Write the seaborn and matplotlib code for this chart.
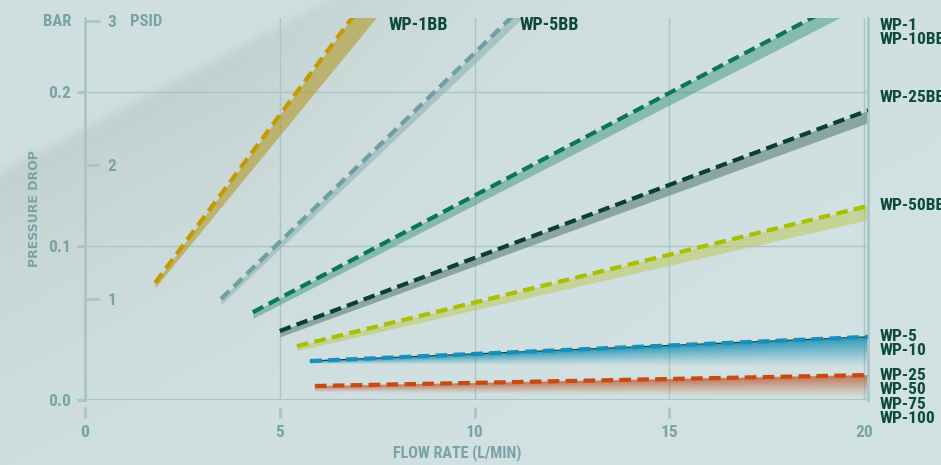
import numpy as np
import pandas as pd
import matplotlib
matplotlib.use('Agg')
import matplotlib.pyplot as plt
from matplotlib import font_manager as fm
import seaborn as sns

# pressure drop curves (bar) vs flow rate (L/min)
series = ['WP-1BB', 'WP-5BB', 'WP-1/WP-10BB', 'WP-25BB', 'WP-50BB', 'WP-5/WP-10', 'WP-25/50/75/100']
flow_start = [1.80, 3.49, 4.31, 5.00, 5.44, 5.78, 5.90]
flow_end = [7.50, 11.25, 19.40, 20.1, 20.1, 20.1, 20.1]
dp_start = [0.076, 0.0656, 0.057, 0.0448, 0.035, 0.0253, 0.0091]
dp_end = [0.2701, 0.2559, 0.2579, 0.188, 0.126, 0.041, 0.0162]
band_low_start = [0.073, 0.062, 0.053, 0.041, 0.032, 0.0235, 0.005]
band_low_end = [0.249, 0.2485, 0.2485, 0.180, 0.117, 0.021, 0.0015]

psid_ticks = [0.0656, 0.1526, 0.246]
psid_labels = ['1', '2', '3']
bar_ticks = [0.0, 0.1, 0.2]
flow_ticks = [0, 5, 10, 15, 20]

right_labels = ['WP-1', 'WP-10BB', 'WP-25BB', 'WP-50BB', 'WP-5', 'WP-10', 'WP-25', 'WP-50', 'WP-75', 'WP-100']
right_label_y = [0.2429, 0.2338, 0.1964, 0.126, 0.041, 0.0319, 0.0157, 0.0065, -0.0026, -0.0117]

line_colors = ['#c49a00', '#6e9fa3', '#0b7658', '#0a3f33', '#a9bf00', '#1690bb', '#c94a0e']
band_colors = ['#b39a2a', '#8fb3b6', '#4d9e8a', '#6e8f88', '#bccb5a', '#1a93b8', '#c0603a']
band_alpha = [0.6, 0.6, 0.55, 0.7, 0.55, 0.9, 0.85]
band_fade = [False, False, False, False, False, True, True]

AXC = '#78a3a7'
GRID = '#a9c5c7'
LAB = '#0e4a3c'

sns.set_style('white')
plt.rcParams['font.family'] = ['DejaVu Sans']
plt.rcParams['font.weight'] = 'bold'

# look for a narrow / condensed bold face for the labels
COND = {'family': ['DejaVu Sans'], 'stretch': 'normal'}
avail = fm.fontManager.ttflist
for want in ['Liberation Sans Narrow', 'Roboto Condensed', 'Open Sans Condensed', 'Noto Sans Condensed']:
    if any(f.name == want for f in avail):
        COND = {'family': [want, 'DejaVu Sans'], 'stretch': 'normal'}
        break
else:
    for f in avail:
        if str(f.stretch) in ('condensed', 'semi-condensed', 'extra-condensed', '75', '87.5'):
            COND = {'family': [f.name, 'DejaVu Sans'], 'stretch': 'condensed'}
            break


def ctext(x, y, s, **kw):
    return ax.text(x, y, s, family=COND['family'], fontstretch=COND['stretch'],
                   fontweight='bold', **kw)


fig = plt.figure(figsize=(9.41, 4.65), dpi=100)

# background with a darker cloudy streak in the upper left
h, w = 465, 941
yy, xx = np.mgrid[0:h, 0:w].astype(float)
s = (166 * xx + 317 * yy - 317 * 173) / np.hypot(166, 317)
dark = 1 / (1 + np.exp(-s / 3)) * np.exp(-np.clip(s, 0, None) / 150) * np.exp(-np.clip(xx - 250, 0, None) / 250)
light = 0.012 * (xx / w + yy / h) / 2
base = np.array([0.812, 0.871, 0.871])
img = base[None, None, :] - dark[..., None] * np.array([0.05, 0.058, 0.058]) + light[..., None]
bg = fig.add_axes([0, 0, 1, 1], zorder=-10)
bg.imshow(np.clip(img, 0, 1), aspect='auto', extent=[0, 1, 0, 1])
bg.axis('off')

ax = fig.add_axes([85 / 941, 65 / 465, 783 / 941, 382 / 465])
ax.set_facecolor('none')

df = pd.DataFrame({
    'series': np.repeat(series, 2),
    'flow': np.ravel(np.column_stack([flow_start, flow_end])),
    'dp': np.ravel(np.column_stack([dp_start, dp_end])),
})

# shaded wedges under the curves
for i, name in enumerate(series):
    xs = np.array([flow_start[i], flow_end[i]])
    up = np.array([dp_start[i], dp_end[i]])
    lo = np.array([band_low_start[i], band_low_end[i]])
    if band_fade[i]:
        gx = np.linspace(xs[0], xs[1], 300)
        gy = np.linspace(lo.min(), up.max(), 120)
        GX, GY = np.meshgrid(gx, gy)
        U = np.interp(GX, xs, up)
        L = np.interp(GX, xs, lo)
        t = (U - GY) / (U - L)
        a = np.where((t >= 0) & (t <= 1), band_alpha[i] * np.clip(1 - t, 0, 1) ** 1.2, 0)
        rgba = np.zeros(GX.shape + (4,))
        rgba[..., :3] = matplotlib.colors.to_rgb(band_colors[i])
        rgba[..., 3] = a
        ax.imshow(rgba, extent=[xs[0], xs[1], gy[0], gy[-1]], origin='lower',
                  aspect='auto', interpolation='bilinear', zorder=2)
    else:
        ax.fill_between(xs, up, lo, color=band_colors[i], alpha=band_alpha[i], lw=0, zorder=2)

# thin dark core under the blue dashes
blue = df[df['series'] == 'WP-5/WP-10']
sns.lineplot(data=blue, x='flow', y='dp', color='#1d4848', lw=0.9, ax=ax, sort=False, zorder=3)

sns.lineplot(data=df, x='flow', y='dp', hue='series', style='series',
             palette=dict(zip(series, line_colors)),
             dashes={n: (2.8, 1.5) for n in series},
             lw=3.0, sort=False, legend=False, ax=ax, zorder=4)

ax.set_xlim(0, 20.1)
ax.set_ylim(0, 0.248)

# axes styling
ax.grid(True, color=GRID, lw=1)
ax.set_axisbelow(True)
ax.spines['top'].set_visible(False)
ax.spines['bottom'].set_visible(False)
ax.spines['bottom'].set_position(('outward', 5))
ax.spines['left'].set_color(GRID)
ax.spines['left'].set_linewidth(2)
ax.spines['right'].set_color(GRID)
ax.spines['right'].set_linewidth(2)
ax.axhline(0, color=GRID, lw=2.2, zorder=1.5)

ax.set_xticks(flow_ticks)
ax.set_xticklabels([str(t) for t in flow_ticks])
ax.set_yticks(bar_ticks)
ax.set_yticklabels(['%.1f' % t for t in bar_ticks])
ax.tick_params(axis='x', direction='out', length=8, width=2, color=GRID, pad=5,
               labelsize=12.5, labelcolor=AXC, bottom=True)
ax.tick_params(axis='y', direction='out', length=6, width=2, color=GRID, pad=4,
               labelsize=12.5, labelcolor=AXC, left=True, right=False)
ax.xaxis.get_major_ticks()[-1].tick1line.set_visible(False)
ax.set_xlabel('')
ax.set_ylabel('')

# PSID scale on the inner side of the left spine
ax2 = ax.twinx()
ax2.set_ylim(ax.get_ylim())
ax2.spines['right'].set_position(('axes', 0))
for sp in ['top', 'bottom', 'left', 'right']:
    ax2.spines[sp].set_visible(False)
ax2.set_yticks(psid_ticks)
ax2.set_yticklabels(psid_labels)
ax2.tick_params(axis='y', direction='out', length=11, width=2, color=GRID, pad=5,
                labelsize=12.5, labelcolor=AXC)
ax2.grid(False)

for lab in ax.get_xticklabels() + ax.get_yticklabels() + ax2.get_yticklabels():
    lab.set_family(COND['family'])
    lab.set_fontstretch(COND['stretch'])

ctext(-0.017, 0.99, 'BAR', transform=ax.transAxes, ha='right', va='center',
      fontsize=12, color=AXC)
ctext(0.058, 0.99, 'PSID', transform=ax.transAxes, ha='left', va='center',
      fontsize=12, color=AXC)
ax.text(-0.064, 0.5, 'PRESSURE DROP', transform=ax.transAxes, ha='center', va='center',
        rotation=90, fontsize=9, color=AXC, fontweight='bold')
ctext(0.475, -0.137, 'FLOW RATE (L/MIN)', transform=ax.transAxes, ha='center', va='center',
      fontsize=11.5, color=AXC)

# series labels
ctext(7.8, 0.2435, 'WP-1BB', ha='left', va='center', fontsize=13, color=LAB)
ctext(11.16, 0.2435, 'WP-5BB', ha='left', va='center', fontsize=13, color=LAB)
for lab, yv in zip(right_labels, right_label_y):
    ctext(1.015, yv, lab, transform=ax.get_yaxis_transform(), ha='left', va='center',
          fontsize=12.5, color=LAB, clip_on=False, linespacing=1.0)

fig.savefig('out.png', dpi=100)
